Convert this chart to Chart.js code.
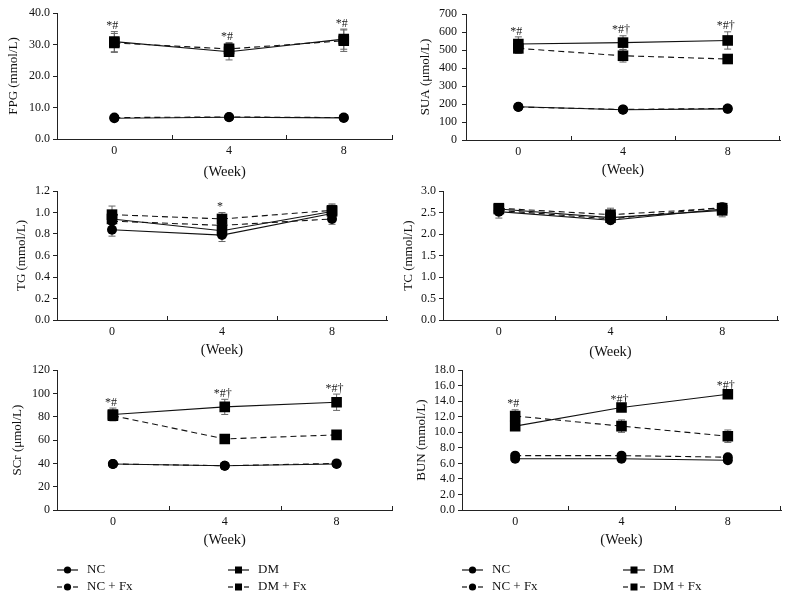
<!DOCTYPE html>
<html><head><meta charset="utf-8">
<script src="https://cdn.jsdelivr.net/npm/chart.js@4.4.1/dist/chart.umd.min.js"></script>
<style>
html,body{margin:0;padding:0;background:#fff;}
body{width:792px;height:599px;position:relative;overflow:hidden;font-family:"Liberation Serif",serif;}
canvas{position:absolute;}
.lt{position:absolute;font:13px "Liberation Serif",serif;color:#111;line-height:14px;white-space:nowrap;}
svg{position:absolute;left:0;top:0;}
</style></head><body>
<script>
// ---------- data ----------
const weeks = [0, 4, 8];
const groupNames = ["NC", "NC + Fx", "DM", "DM + Fx"];

const fpgNC   = [6.6, 6.9, 6.7];
const fpgNCFx = [6.8, 7.0, 6.8];
const fpgDM   = [30.9, 27.7, 31.7];
const fpgDMFx = [30.5, 28.6, 31.2];
const fpgNCErr   = [0.5, 0.4, 0.4];
const fpgNCFxErr = [0.5, 0.4, 0.4];
const fpgDMErr   = [3.2, 2.6, 3.2];
const fpgDMFxErr = [3.0, 2.0, 3.4];
const fpgMarks = ["*#", "*#", "*#"];
const fpgTicks = [0, 10, 20, 30, 40];

const suaNC   = [185, 168, 173];
const suaNCFx = [183, 170, 175];
const suaDM   = [533, 541, 553];
const suaDMFx = [509, 468, 450];
const suaNCErr   = [12, 14, 12];
const suaNCFxErr = [10, 12, 12];
const suaDMErr   = [40, 38, 48];
const suaDMFxErr = [28, 35, 25];
const suaMarks = ["*#", "*#\u2020", "*#\u2020"];
const suaTicks = [0, 100, 200, 300, 400, 500, 600, 700];

const tgNC   = [0.84, 0.79, 0.99];
const tgNCFx = [0.92, 0.88, 0.94];
const tgDM   = [0.94, 0.83, 1.01];
const tgDMFx = [0.98, 0.94, 1.02];
const tgNCErr   = [0.06, 0.06, 0.05];
const tgNCFxErr = [0.06, 0.05, 0.05];
const tgDMErr   = [0.07, 0.06, 0.06];
const tgDMFxErr = [0.08, 0.06, 0.06];
const tgMarks = ["", "*", ""];
const tgTicks = [0, 0.2, 0.4, 0.6, 0.8, 1.0, 1.2];

const tcNC   = [2.52, 2.32, 2.58];
const tcNCFx = [2.55, 2.35, 2.62];
const tcDM   = [2.58, 2.38, 2.55];
const tcDMFx = [2.60, 2.45, 2.60];
const tcNCErr   = [0.15, 0.08, 0.10];
const tcNCFxErr = [0.10, 0.08, 0.10];
const tcDMErr   = [0.10, 0.10, 0.15];
const tcDMFxErr = [0.08, 0.15, 0.10];
const tcMarks = ["", "", ""];
const tcTicks = [0, 0.5, 1.0, 1.5, 2.0, 2.5, 3.0];

const scrNC   = [39.5, 38, 39.5];
const scrNCFx = [39.5, 38, 40];
const scrDM   = [82, 88.5, 92.5];
const scrDMFx = [81, 61, 64.5];
const scrNCErr   = [1.5, 1.5, 1.5];
const scrNCFxErr = [1.5, 1.5, 1.5];
const scrDMErr   = [5.5, 6.5, 7];
const scrDMFxErr = [4, 2, 2];
const scrMarks = ["*#", "*#\u2020", "*#\u2020"];
const scrTicks = [0, 20, 40, 60, 80, 100, 120];

const bunNC   = [6.6, 6.6, 6.4];
const bunNCFx = [7.0, 7.0, 6.8];
const bunDM   = [10.8, 13.2, 14.9];
const bunDMFx = [12.1, 10.8, 9.5];
const bunNCErr   = [0.3, 0.3, 0.3];
const bunNCFxErr = [0.3, 0.3, 0.3];
const bunDMErr   = [0.4, 0.3, 0.4];
const bunDMFxErr = [0.8, 0.8, 0.8];
const bunMarks = ["*#", "*#\u2020", "*#\u2020"];
const bunTicks = [0, 2, 4, 6, 8, 10, 12, 14, 16, 18];

// ---------- helpers ----------
const SERIF = '"Liberation Serif", "Times New Roman", serif';
const WEEK_FONT = 14.5;

function makeDatasets(vals, errs) {
  const styles = [
    {dash: [], shape: 'circle', r: 5},
    {dash: [6, 4], shape: 'circle', r: 5},
    {dash: [], shape: 'rect', r: 7.5},
    {dash: [6, 4], shape: 'rect', r: 7.5}
  ];
  return vals.map((v, k) => ({
    label: groupNames[k],
    data: weeks.map((w, i) => ({x: w, y: v[i]})),
    errors: errs[k],
    borderColor: '#111',
    backgroundColor: '#000',
    borderWidth: 1.1,
    borderDash: styles[k].dash,
    pointStyle: styles[k].shape,
    pointRadius: styles[k].r,
    pointHoverRadius: styles[k].r,
    pointBackgroundColor: '#000',
    pointBorderColor: '#000',
    pointBorderWidth: 0,
    tension: 0
  }));
}

const errorBarPlugin = {
  id: 'errorBars',
  beforeDatasetsDraw(chart) {
    const ctx = chart.ctx, xs = chart.scales.x, ys = chart.scales.y;
    ctx.save();
    ctx.strokeStyle = '#666';
    ctx.lineWidth = 1;
    chart.data.datasets.forEach(ds => {
      ds.data.forEach((p, i) => {
        const e = ds.errors[i];
        const x = xs.getPixelForValue(p.x);
        const y1 = ys.getPixelForValue(p.y + e), y2 = ys.getPixelForValue(p.y - e);
        ctx.beginPath();
        ctx.moveTo(x, y1); ctx.lineTo(x, y2);
        ctx.moveTo(x - 3.5, y1); ctx.lineTo(x + 3.5, y1);
        ctx.moveTo(x - 3.5, y2); ctx.lineTo(x + 3.5, y2);
        ctx.stroke();
      });
    });
    ctx.restore();
  }
};

function makeMarkPlugin(marks) {
  return {
    id: 'sigMarks',
    afterDatasetsDraw(chart) {
      const ctx = chart.ctx, xs = chart.scales.x, ys = chart.scales.y;
      ctx.save();
      ctx.fillStyle = '#222';
      ctx.font = '12px ' + SERIF;
      ctx.textAlign = 'center';
      ctx.textBaseline = 'bottom';
      weeks.forEach((w, i) => {
        if (!marks[i]) return;
        let top = -Infinity;
        chart.data.datasets.forEach(ds => { top = Math.max(top, ds.data[i].y + ds.errors[i]); });
        ctx.fillText(marks[i], xs.getPixelForValue(w) - 2, ys.getPixelForValue(top) + 0.5);
      });
      ctx.restore();
    }
  };
}

const xTickMarkPlugin = {
  id: 'xTickMarks',
  afterDraw(chart) {
    const ctx = chart.ctx, xs = chart.scales.x;
    const yb = chart.chartArea.bottom;
    ctx.save();
    ctx.strokeStyle = '#222';
    ctx.lineWidth = 1;
    ctx.beginPath();
    [2, 6].forEach(v => {
      const x = Math.round(xs.getPixelForValue(v)) + 0.5;
      ctx.moveTo(x, yb); ctx.lineTo(x, yb - 4);
    });
    const xr = Math.round(xs.right) - 0.5;
    ctx.moveTo(xr, yb); ctx.lineTo(xr, yb - 4);
    ctx.stroke();
    ctx.restore();
  }
};

function panel(cfg) {
  const c = document.createElement('canvas');
  c.width = cfg.rect.w; c.height = cfg.rect.h;
  c.style.left = cfg.rect.l + 'px'; c.style.top = cfg.rect.t + 'px';
  c.style.width = cfg.rect.w + 'px'; c.style.height = cfg.rect.h + 'px';
  document.body.appendChild(c);
  const a = cfg.area;
  const xAxisH = cfg.rect.t + cfg.rect.h - a.bottom;
  new Chart(c, {
    type: 'line',
    data: {datasets: makeDatasets(cfg.vals, cfg.errs)},
    options: {
      responsive: false, animation: false, devicePixelRatio: 1,
      layout: {padding: {top: a.top - cfg.rect.t, right: cfg.rect.l + cfg.rect.w - a.right, left: 0, bottom: 0}},
      plugins: {legend: {display: false}, tooltip: {enabled: false}},
      scales: {
        x: {
          type: 'linear', min: -2, max: cfg.xMax,
          afterBuildTicks: s => { s.ticks = weeks.map(v => ({value: v})); },
          afterFit: s => { s.height = xAxisH; },
          grid: {display: false, drawTicks: false},
          border: {display: true, color: '#222', width: 1},
          ticks: {padding: 5, color: '#111', font: {family: SERIF, size: 12}, maxRotation: 0, autoSkip: false,
                  callback: v => String(v)},
          title: {display: true, text: '(Week)', color: '#111', font: {family: SERIF, size: WEEK_FONT},
                  padding: {top: 0, bottom: cfg.rect.t + cfg.rect.h - cfg.weekY - WEEK_FONT * 0.6}}
        },
        y: {
          type: 'linear', min: cfg.ticks[0], max: cfg.ticks[cfg.ticks.length - 1],
          afterBuildTicks: s => { s.ticks = cfg.ticks.map(v => ({value: v})); },
          afterFit: s => { s.width = a.left - cfg.rect.l; },
          grid: {drawOnChartArea: false, drawTicks: true, tickLength: 4, color: '#222'},
          border: {display: true, color: '#222', width: 1},
          ticks: {padding: cfg.tickPad, color: '#111', font: {family: SERIF, size: 12}, autoSkip: false,
                  callback: v => v.toFixed(cfg.dec)},
          title: {display: true, text: cfg.title, color: '#111', font: {family: SERIF, size: 13},
                  padding: {top: cfg.titleX - cfg.rect.l - 7.8, bottom: 0}}
        }
      }
    },
    plugins: [errorBarPlugin, makeMarkPlugin(cfg.marks), xTickMarkPlugin]
  });
}

panel({rect: {l: 0, t: 0, w: 400, h: 185}, area: {left: 57, top: 13, bottom: 139, right: 397},
  xMax: 9.7, weekY: 172, titleX: 14, tickPad: 3, dec: 1, title: 'FPG (mmol/L)', ticks: fpgTicks,
  vals: [fpgNC, fpgNCFx, fpgDM, fpgDMFx], errs: [fpgNCErr, fpgNCFxErr, fpgDMErr, fpgDMFxErr], marks: fpgMarks});
panel({rect: {l: 400, t: 0, w: 392, h: 185}, area: {left: 466, top: 14, bottom: 140, right: 780},
  xMax: 10, weekY: 170, titleX: 426, tickPad: 5, dec: 0, title: 'SUA (\u03BCmol/L)', ticks: suaTicks,
  vals: [suaNC, suaNCFx, suaDM, suaDMFx], errs: [suaNCErr, suaNCFxErr, suaDMErr, suaDMFxErr], marks: suaMarks});
panel({rect: {l: 0, t: 180, w: 400, h: 180}, area: {left: 57, top: 191, bottom: 320, right: 387},
  xMax: 10, weekY: 350, titleX: 22, tickPad: 3, dec: 1, title: 'TG (mmol/L)', ticks: tgTicks,
  vals: [tgNC, tgNCFx, tgDM, tgDMFx], errs: [tgNCErr, tgNCFxErr, tgDMErr, tgDMFxErr], marks: tgMarks});
panel({rect: {l: 400, t: 180, w: 392, h: 180}, area: {left: 443, top: 191, bottom: 320, right: 778},
  xMax: 10, weekY: 352, titleX: 409, tickPad: 3, dec: 1, title: 'TC (mmol/L)', ticks: tcTicks,
  vals: [tcNC, tcNCFx, tcDM, tcDMFx], errs: [tcNCErr, tcNCFxErr, tcDMErr, tcDMFxErr], marks: tcMarks});
panel({rect: {l: 0, t: 360, w: 400, h: 190}, area: {left: 57, top: 370, bottom: 510, right: 398},
  xMax: 10, weekY: 540, titleX: 18, tickPad: 3, dec: 0, title: 'SCr (\u03BCmol/L)', ticks: scrTicks,
  vals: [scrNC, scrNCFx, scrDM, scrDMFx], errs: [scrNCErr, scrNCFxErr, scrDMErr, scrDMFxErr], marks: scrMarks});
panel({rect: {l: 400, t: 360, w: 392, h: 190}, area: {left: 462, top: 370, bottom: 510, right: 781},
  xMax: 10, weekY: 540, titleX: 422, tickPad: 3, dec: 1, title: 'BUN (mmol/L)', ticks: bunTicks,
  vals: [bunNC, bunNCFx, bunDM, bunDMFx], errs: [bunNCErr, bunNCFxErr, bunDMErr, bunDMFxErr], marks: bunMarks});

// ---------- legends ----------
(function () {
  const NS = 'http://www.w3.org/2000/svg';
  const svg = document.createElementNS(NS, 'svg');
  svg.setAttribute('width', 792); svg.setAttribute('height', 599);
  document.body.appendChild(svg);
  function el(tag, attrs) { const e = document.createElementNS(NS, tag); for (const k in attrs) e.setAttribute(k, attrs[k]); svg.appendChild(e); }
  function sym(x0, x1, y, dashed, square) {
    const cx = (x0 + x1) / 2;
    if (dashed) {
      el('line', {x1: x0, y1: y, x2: x0 + 5, y2: y, stroke: '#111', 'stroke-width': 1.2});
      el('line', {x1: x1 - 5, y1: y, x2: x1, y2: y, stroke: '#111', 'stroke-width': 1.2});
    } else {
      el('line', {x1: x0, y1: y, x2: x1, y2: y, stroke: '#111', 'stroke-width': 1.2});
    }
    if (square) el('rect', {x: cx - 3.5, y: y - 3.5, width: 7, height: 7, fill: '#000'});
    else el('circle', {cx: cx, cy: y, r: 3.6, fill: '#000'});
  }
  function text(x, y, s) {
    const d = document.createElement('div'); d.className = 'lt';
    d.style.left = x + 'px'; d.style.top = (y - 8) + 'px'; d.textContent = s;
    document.body.appendChild(d);
  }
  const cols = [
    {sx0: 57, sx1: 78, tx: 87, g: [0, 1]},
    {sx0: 228, sx1: 249, tx: 258, g: [2, 3]},
    {sx0: 462, sx1: 483, tx: 492, g: [0, 1]},
    {sx0: 623, sx1: 645, tx: 653, g: [2, 3]}
  ];
  const rowsY = [570, 587];
  cols.forEach(c => {
    c.g.forEach((gi, r) => {
      sym(c.sx0, c.sx1, rowsY[r], gi % 2 === 1, gi >= 2);
      text(c.tx, rowsY[r], groupNames[gi]);
    });
  });
})();
</script>
</body></html>
